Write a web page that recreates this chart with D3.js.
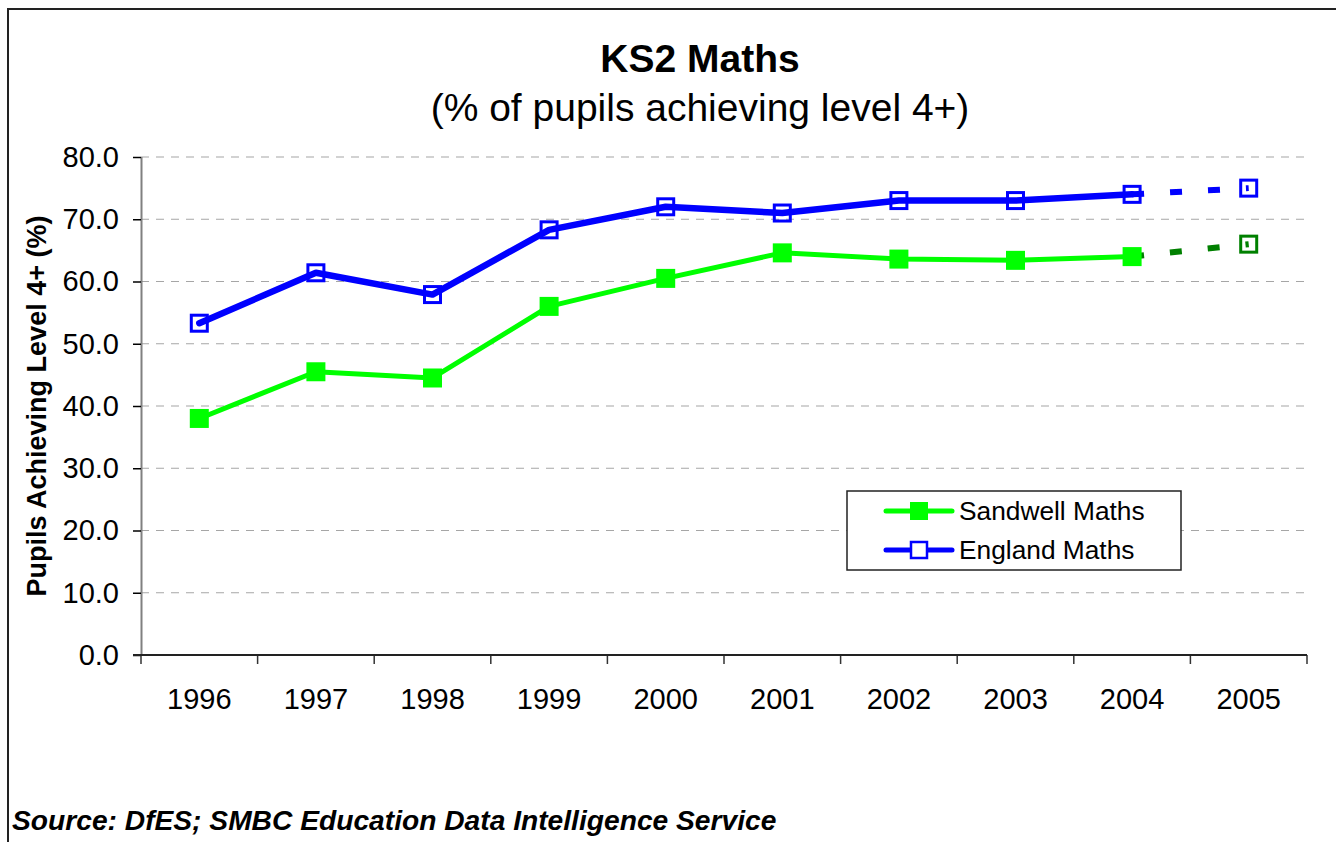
<!DOCTYPE html>
<html>
<head>
<meta charset="utf-8">
<script src="https://cdn.jsdelivr.net/npm/d3@7"></script>
<style>
  html, body { margin: 0; padding: 0; background: #fff; }
  svg { display: block; font-family: Arial, "Liberation Sans", sans-serif; }
</style>
</head>
<body>
<svg id="chart" width="1336" height="842"></svg>
<script>
// ---- Data ----
const years = ["1996", "1997", "1998", "1999", "2000", "2001", "2002", "2003", "2004", "2005"];
const sandwell = [38.0, 45.5, 44.5, 56.0, 60.5, 64.6, 63.6, 63.4, 64.0, 66.0];
const england = [53.3, 61.4, 57.9, 68.3, 72.0, 71.0, 73.0, 73.0, 74.0, 75.0];
const yTicks = [0, 10, 20, 30, 40, 50, 60, 70, 80];
const projectedYear = "2005";
const seriesNames = ["Sandwell Maths", "England Maths"];
const titleText = "KS2 Maths";
const subtitleText = "(% of pupils achieving level 4+)";
const yAxisTitle = "Pupils Achieving Level 4+ (%)";
const sourceText = "Source: DfES; SMBC Education Data Intelligence Service";

// ---- Layout ----
const svg = d3.select("#chart");
const plot = { left: 141, right: 1307, top: 157, bottom: 655 };

const x = d3.scaleBand().domain(years).range([plot.left, plot.right]).padding(0);
const xc = d => x(d) + x.bandwidth() / 2;
const y = d3.scaleLinear().domain([0, 80]).range([plot.bottom, plot.top]);

// Outer frame
svg.append("rect")
  .attr("x", 8).attr("y", 9).attr("width", 1400).attr("height", 900)
  .attr("fill", "none").attr("stroke", "#222").attr("stroke-width", 2);

// Titles
svg.append("text").attr("x", 700).attr("y", 72).attr("text-anchor", "middle")
  .attr("font-size", 39).attr("font-weight", "bold").text(titleText);
svg.append("text").attr("x", 700).attr("y", 121).attr("text-anchor", "middle")
  .attr("font-size", 39).text(subtitleText);

// Gridlines
svg.append("g").selectAll("line").data(yTicks.filter(t => t > 0)).join("line")
  .attr("x1", plot.left).attr("x2", plot.right)
  .attr("y1", d => y(d)).attr("y2", d => y(d))
  .attr("stroke", "#a6a6a6").attr("stroke-width", 1.2).attr("stroke-dasharray", "8,7");

// Y axis
const yAxis = svg.append("g").attr("transform", `translate(${plot.left},0)`)
  .call(d3.axisLeft(y).tickValues(yTicks).tickFormat(d3.format(".1f")).tickSize(8).tickPadding(14));
yAxis.select(".domain").attr("stroke", "#808080").attr("stroke-width", 2).attr("d", `M0.5,${plot.top}V${plot.bottom}`);
yAxis.selectAll(".tick line").attr("stroke", "#000").attr("stroke-width", 1.5);
yAxis.selectAll(".tick text").attr("font-size", 29).attr("fill", "#000")
  .attr("font-family", "Arial, 'Liberation Sans', sans-serif");

// X axis (labels at centres, ticks at category boundaries)
const xAxis = svg.append("g").attr("transform", `translate(0,${plot.bottom})`)
  .call(d3.axisBottom(x).tickSize(0).tickPadding(33));
xAxis.select(".domain").remove();
xAxis.selectAll(".tick text").attr("font-size", 29).attr("fill", "#000")
  .attr("font-family", "Arial, 'Liberation Sans', sans-serif");
const boundaries = years.map(d => x(d)).concat([x(years[years.length - 1]) + x.bandwidth()]);
svg.append("g").selectAll("line").data(boundaries).join("line")
  .attr("x1", d => d).attr("x2", d => d)
  .attr("y1", plot.bottom).attr("y2", plot.bottom + 9)
  .attr("stroke", "#333").attr("stroke-width", 1.5);
svg.append("line").attr("x1", plot.left - 8).attr("x2", plot.right)
  .attr("y1", plot.bottom).attr("y2", plot.bottom)
  .attr("stroke", "#222").attr("stroke-width", 1.8);

// Y axis title
svg.append("text")
  .attr("transform", `translate(46,406) rotate(-90)`)
  .attr("text-anchor", "middle").attr("font-size", 27).attr("font-weight", "bold")
  .text(yAxisTitle);

// ---- Series ----
const line = d3.line().x(d => xc(d.year)).y(d => y(d.v));
function toPts(vals) { return years.map((yr, i) => ({ year: yr, v: vals[i] })); }

function drawSeries(vals, color, projColor, width, filled) {
  const pts = toPts(vals);
  const pIdx = years.indexOf(projectedYear);
  const solid = pts.slice(0, pIdx);
  const proj = pts.slice(pIdx - 1, pIdx + 1);
  const g = svg.append("g");
  g.append("path").attr("d", line(solid)).attr("fill", "none")
    .attr("stroke", color).attr("stroke-width", width)
    .attr("stroke-linejoin", "round").attr("stroke-linecap", "round");
  g.append("path").attr("d", line(proj)).attr("fill", "none")
    .attr("stroke", projColor).attr("stroke-width", 6)
    .attr("stroke-dasharray", "12,26");
  solid.forEach(p => {
    if (filled) {
      g.append("rect").attr("x", xc(p.year) - 9.5).attr("y", y(p.v) - 9.5)
        .attr("width", 19).attr("height", 19).attr("fill", color);
    } else {
      g.append("rect").attr("x", xc(p.year) - 8).attr("y", y(p.v) - 8)
        .attr("width", 16).attr("height", 16).attr("fill", "none")
        .attr("stroke", color).attr("stroke-width", 3);
    }
  });
  const last = pts[pIdx];
  g.append("rect").attr("x", xc(last.year) - 8).attr("y", y(last.v) - 8)
    .attr("width", 16).attr("height", 16).attr("fill", "none")
    .attr("stroke", projColor).attr("stroke-width", 3);
}

drawSeries(sandwell, "#00ff00", "#008000", 5, true);
drawSeries(england, "#0000ff", "#0000ff", 6.5, false);

// ---- Legend ----
const lg = svg.append("g");
lg.append("rect").attr("x", 847).attr("y", 491).attr("width", 334).attr("height", 79)
  .attr("fill", "#fff").attr("stroke", "#222").attr("stroke-width", 1.5);
const legendItems = [
  { name: seriesNames[0], color: "#00ff00", filled: true, yy: 511 },
  { name: seriesNames[1], color: "#0000ff", filled: false, yy: 550 }
];
legendItems.forEach(it => {
  lg.append("line").attr("x1", 886).attr("x2", 952).attr("y1", it.yy).attr("y2", it.yy)
    .attr("stroke", it.color).attr("stroke-width", 5).attr("stroke-linecap", "round");
  if (it.filled) {
    lg.append("rect").attr("x", 910).attr("y", it.yy - 9).attr("width", 18).attr("height", 18)
      .attr("fill", it.color);
  } else {
    lg.append("rect").attr("x", 911).attr("y", it.yy - 8).attr("width", 16).attr("height", 16)
      .attr("fill", "#fff").attr("stroke", it.color).attr("stroke-width", 2.5);
  }
  lg.append("text").attr("x", 959).attr("y", it.yy + 9).attr("font-size", 26.3).text(it.name);
});

// Source
svg.append("text").attr("x", 12).attr("y", 830).attr("font-size", 28.2)
  .attr("font-weight", "bold").attr("font-style", "italic").text(sourceText);
</script>
</body>
</html>
